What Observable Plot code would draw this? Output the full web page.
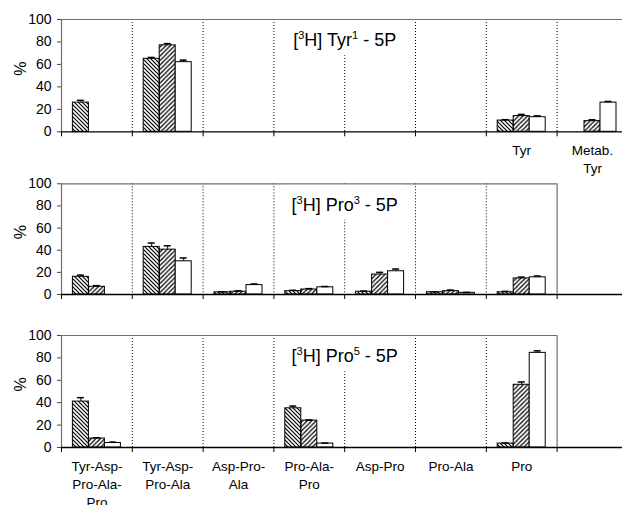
<!DOCTYPE html>
<html><head><meta charset="utf-8">
<script src="https://cdn.jsdelivr.net/npm/d3@7"></script>
<script src="https://cdn.jsdelivr.net/npm/@observablehq/plot@0.6"></script>
<style>
html,body{margin:0;padding:0;background:#fff;overflow:hidden;}
#chart svg{display:block;overflow:visible;}
</style></head><body>
<svg width="0" height="0" style="position:absolute">
<defs>
<pattern id="hatchDense" patternUnits="userSpaceOnUse" width="4" height="4">
<path d="M-1,-1 L5,5 M-1,3 L1,5 M3,-1 L5,1" stroke="#000" stroke-width="1.2"/>
</pattern>
<pattern id="hatchSparse" patternUnits="userSpaceOnUse" width="4.5" height="4.5">
<path d="M-1,5.5 L5.5,-1 M-1,1 L1,-1 M3.5,5.5 L5.5,3.5" stroke="#000" stroke-width="1.2"/>
</pattern>
</defs></svg>
<div id="chart"></div>
<script>
// ---------- data ----------
const seriesFills = ["url(#hatchDense)", "url(#hatchSparse)", "white"];
const categories = ["Tyr-Asp-\nPro-Ala-\nPro", "Tyr-Asp-\nPro-Ala", "Asp-Pro-\nAla", "Pro-Ala-\nPro", "Asp-Pro", "Pro-Ala", "Pro"];
const tyrLabels = ["", "", "", "", "", "", "Tyr", "Metab.\nTyr"];
const blankLabels = ["", "", "", "", "", "", ""];
const titles = ["[^3H] Tyr^1 - 5P", "[^3H] Pro^3 - 5P", "[^3H] Pro^5 - 5P"];
const yTicks = [0, 20, 40, 60, 80, 100];

// Panel 1: [3H] Tyr1 - 5P (8 category slots)
const tyr1A = [26, 65, null, null, null, null, 10, null];
const tyr1B = [null, 77, null, null, null, null, 14, 9.5];
const tyr1C = [null, 62, null, null, null, null, 13, 26];
const tyr1ErrA = [2, 1.2, null, null, null, null, 0.8, null];
const tyr1ErrB = [null, 1.5, null, null, null, null, 1.5, 1.2];
const tyr1ErrC = [null, 1.8, null, null, null, null, 1.2, 1];

// Panel 2: [3H] Pro3 - 5P
const pro3A = [16, 43, 2, 3, 2.5, 2, 2];
const pro3B = [7, 40.5, 2.5, 4.5, 18, 3, 14.5];
const pro3C = [null, 30, 8.5, 6.5, 21, 1.5, 15.5];
const pro3ErrA = [1.5, 3.5, 0.5, 0.8, 0.6, 0.5, 0.8];
const pro3ErrB = [1, 3.5, 0.8, 0.8, 2, 1, 1.2];
const pro3ErrC = [null, 3, 1, 0.7, 2, 0.4, 1.2];

// Panel 3: [3H] Pro5 - 5P
const pro5A = [41, null, null, 35, null, null, 3.5];
const pro5B = [8, null, null, 24, null, null, 56];
const pro5C = [4, null, null, 3.5, null, null, 84.5];
const pro5ErrA = [3.5, null, null, 2, null, null, 0.5];
const pro5ErrB = [0.7, null, null, 0.6, null, null, 2.5];
const pro5ErrC = [0.8, null, null, 0.4, null, null, 1.8];

// ---------- layout ----------
const FONT = "Arial, 'Liberation Sans', sans-serif";
const xLeft = 61, catWidth = 70.8, barPx = 16, capPx = 3.5;

function panel({n, values, errs, labels, title, height, marginTop, marginBottom, boxed}) {
  const rows = [];
  values.forEach((arr, s) => arr.forEach((v, i) => {
    if (v != null) rows.push({i, s, v, e: errs[s][i] || 0});
  }));
  const barW = barPx / catWidth, groupOff = (1 - 3 * barW) / 2, cap = capPx / catWidth;
  const cx = d => d.i + groupOff + barW * (d.s + 0.5);
  const frameColor = "#6e6e6e";
  const marks = [
    Plot.ruleX(d3.range(1, n), {stroke: "#000", strokeDasharray: "1,2", strokeWidth: 1})
  ];
  [0, 1, 2].forEach(s => {
    marks.push(Plot.rect(rows.filter(d => d.s === s), {
      x1: d => d.i + groupOff + barW * d.s,
      x2: d => d.i + groupOff + barW * (d.s + 1),
      y1: 0, y2: "v", fill: seriesFills[s], stroke: "#000", strokeWidth: 1
    }));
  });
  marks.push(
    Plot.ruleX(rows, {x: cx, y1: "v", y2: d => d.v + d.e, stroke: "#000", strokeWidth: 1}),
    Plot.ruleY(rows, {y: d => d.v + d.e, x1: d => cx(d) - cap, x2: d => cx(d) + cap, stroke: "#000", strokeWidth: 1.5}),
    Plot.axisY({ticks: yTicks, tickSize: 4, tickPadding: 6, fontSize: 14, label: null, stroke: "#444"}),
    Plot.ruleX([0], {stroke: frameColor, strokeWidth: 1.2}),
    Plot.ruleY([100], {x1: 0, x2: boxed ? n : n + 1, stroke: frameColor, strokeWidth: 1.2}),
    Plot.axisX({ticks: d3.range(0, n + 1), tickSize: 5, tickFormat: () => "", label: null, stroke: "#000"}),
    Plot.ruleY([0], {stroke: "#000", strokeWidth: 1.3}),
    Plot.text(labels, {x: (d, i) => i + 0.5, y: 0, text: d => d, dy: 10, lineAnchor: "top", lineHeight: 1.36, fontSize: 13.5, fill: "#000"}),
    Plot.text([title], {x: 4, y: 100, text: d => d, dy: 21, lineAnchor: "middle", fontSize: 18, fill: "#000"}),
    Plot.text(["%"], {frameAnchor: "left", dx: -41, rotate: -90, fontSize: 16, fill: "#000"})
  );
  if (boxed) marks.push(Plot.ruleX([n], {stroke: frameColor, strokeWidth: 1.2}));
  return Plot.plot({
    width: 622, height, marginTop, marginBottom, marginLeft: xLeft, marginRight: 0,
    x: {domain: [0, n], range: [xLeft, xLeft + catWidth * n]},
    y: {domain: [0, 100]},
    style: {fontFamily: FONT, overflow: "visible", background: "transparent"},
    marks
  });
}

function decorate(svg, mt) {
  const t = Array.from(svg.querySelectorAll("text")).find(el => el.textContent.includes("^"));
  if (!t) return;
  const raw = t.textContent;
  while (t.firstChild) t.removeChild(t.firstChild);
  const NS = "http://www.w3.org/2000/svg";
  let buf = "", shifted = false;
  const flush = () => {
    if (!buf) return;
    const ts = document.createElementNS(NS, "tspan");
    ts.textContent = buf;
    if (shifted) { ts.setAttribute("dy", "7"); shifted = false; }
    t.appendChild(ts); buf = "";
  };
  for (let k = 0; k < raw.length; k++) {
    if (raw[k] === "^" && k + 1 < raw.length) {
      flush();
      const sup = document.createElementNS(NS, "tspan");
      sup.textContent = raw[k + 1];
      sup.setAttribute("font-size", "11");
      sup.setAttribute("dy", "-7");
      t.appendChild(sup);
      shifted = true; k++;
    } else buf += raw[k];
  }
  flush();
  const sr = svg.getBoundingClientRect(), tr = t.getBoundingClientRect();
  const rect = document.createElementNS(NS, "rect");
  const y0 = mt + 1.5;
  rect.setAttribute("x", tr.left - sr.left - 5);
  rect.setAttribute("y", y0);
  rect.setAttribute("width", tr.width + 10);
  rect.setAttribute("height", tr.bottom - sr.top + 5 - y0);
  rect.setAttribute("fill", "white");
  let g = t;
  while (g.parentNode && g.parentNode !== svg) g = g.parentNode;
  svg.insertBefore(rect, g);
}

const chart = document.getElementById("chart");
const specs = [
  {n: 8, values: [tyr1A, tyr1B, tyr1C], errs: [tyr1ErrA, tyr1ErrB, tyr1ErrC], labels: tyrLabels, title: titles[0], height: 178, marginTop: 19, marginBottom: 46.7, boxed: false},
  {n: 7, values: [pro3A, pro3B, pro3C], errs: [pro3ErrA, pro3ErrB, pro3ErrC], labels: blankLabels, title: titles[1], height: 145, marginTop: 5.3, marginBottom: 29, boxed: true},
  {n: 7, values: [pro5A, pro5B, pro5C], errs: [pro5ErrA, pro5ErrB, pro5ErrC], labels: categories, title: titles[2], height: 182, marginTop: 12, marginBottom: 58, boxed: true}
];
specs.forEach(sp => {
  const svg = panel(sp);
  chart.appendChild(svg);
  decorate(svg, sp.marginTop);
});
</script>
</body></html>
